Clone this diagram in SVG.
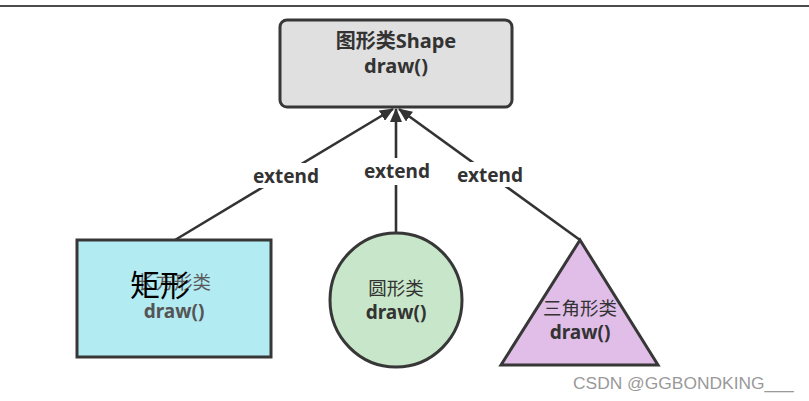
<svg xmlns="http://www.w3.org/2000/svg" width="809" height="401" viewBox="0 0 809 401">
<style>
.shape{stroke:#373737;stroke-width:3}
.conn{stroke:#333;stroke-width:2.6;fill:none}
.t{font-family:"Noto Sans","Noto Sans CJK SC",sans-serif;fill:#333;text-anchor:middle;font-size:18.5px}
.b{font-weight:bold;font-size:19px}
.lbl{font-family:"Noto Sans",sans-serif;font-weight:bold;font-size:19px;fill:#333;text-anchor:middle}
</style>
<defs>
<marker id="arr" viewBox="0 0 14 12" refX="13" refY="6" markerWidth="14" markerHeight="12" markerUnits="userSpaceOnUse" orient="auto">
<path d="M0,0 L14,6 L0,12 Z" fill="#333"/>
</marker>
</defs>
<rect width="809" height="401" fill="#fff"/>
<line x1="0" y1="6" x2="809" y2="6" stroke="#111" stroke-width="1.5"/>
<g id="connectors">
<line class="conn" x1="175" y1="240" x2="393" y2="109" marker-end="url(#arr)"/>
<line class="conn" x1="396" y1="232" x2="396" y2="109" marker-end="url(#arr)"/>
<line class="conn" x1="580" y1="240" x2="399" y2="109" marker-end="url(#arr)"/>
<rect x="251" y="163" width="70" height="25" fill="#fff"/>
<rect x="362" y="158" width="70" height="27" fill="#fff"/>
<rect x="455" y="162" width="70" height="25" fill="#fff"/>
<text class="lbl" x="286" y="183">extend</text>
<text class="lbl" x="397" y="178">extend</text>
<text class="lbl" x="490" y="182">extend</text>
</g>
<g id="shape">
<rect class="shape" x="280" y="20" width="232" height="87" rx="7" fill="#e0e0e0"/>
<text class="t b" x="396" y="48" style="font-size:20px">图形类Shape</text>
<text class="t b" x="396" y="73" style="font-size:20px">draw()</text>
</g>
<g id="rect">
<rect class="shape" x="77" y="240" width="194" height="117" fill="#b2ebf2"/>
<text class="t" x="174" y="289" style="fill:#5a5a5a">长方形类</text>
<text class="t b" x="174" y="318" style="fill:#555">draw()</text>
<text x="160" y="296" font-family="'Noto Sans CJK SC',sans-serif" font-size="30" fill="#000" text-anchor="middle">矩形</text>
</g>
<g id="circle">
<ellipse class="shape" cx="396" cy="300" rx="66" ry="67" fill="#c8e6c9"/>
<text class="t" x="396" y="295">圆形类</text>
<text class="t b" x="396" y="319">draw()</text>
</g>
<g id="triangle">
<polygon class="shape" points="580,240 658,365 501,365" fill="#e1bee7"/>
<text class="t" x="580" y="315">三角形类</text>
<text class="t b" x="580" y="339">draw()</text>
</g>
<text x="573" y="389" font-family="'Liberation Sans',Arial,sans-serif" font-size="17.4" fill="#999">CSDN @GGBONDKING___</text>
</svg>
